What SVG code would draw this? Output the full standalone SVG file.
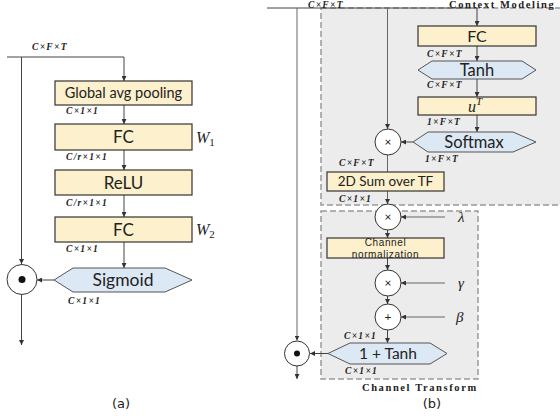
<svg xmlns="http://www.w3.org/2000/svg" width="560" height="419" viewBox="0 0 560 419">
<defs>
<marker id="ah" markerWidth="5" markerHeight="5" refX="5" refY="2.5" orient="auto" markerUnits="userSpaceOnUse">
<path d="M0,0 L5,2.5 L0,5 z" fill="#333"/>
</marker>
</defs>
<style>
.box{fill:#fdf0cc;stroke:#333;stroke-width:1.2}
.hex{fill:#dde8f5;stroke:#555;stroke-width:1}
.op{fill:#fff;stroke:#333;stroke-width:1}
.ln{stroke:#444;stroke-width:1;fill:none}
.lnb{stroke:#666;stroke-width:1;fill:none}
.arr{marker-end:url(#ah)}
.grp{fill:#ececec;stroke:#999;stroke-width:1.5;stroke-dasharray:6,3}
.lbl{font-family:Lato,"Liberation Sans",sans-serif;fill:#222;text-anchor:middle}
.dim{font-family:"Liberation Serif",serif;font-weight:bold;font-style:italic;font-size:9.5px;letter-spacing:1.3px;fill:#222}
.math{font-family:"Liberation Serif",serif;font-style:italic;fill:#222}
.ttl{font-family:"Liberation Serif",serif;font-weight:bold;font-size:10.5px;letter-spacing:1.6px;fill:#222}
.cap{font-family:"DejaVu Sans",sans-serif;font-size:13px;fill:#222;text-anchor:middle}
</style>
<rect width="560" height="419" fill="#fff"/>

<!-- (b) group backgrounds -->
<rect id="context-modeling" class="grp" x="321" y="8" width="245" height="197"/>
<rect id="channel-transform" class="grp" x="321" y="211" width="157" height="168"/>

<g id="connectors">
<!-- (a) -->
<path class="ln" d="M7,57 H124"/>
<path class="ln arr" d="M21.5,57 V264"/>
<path class="ln arr" d="M124,57 V81"/>
<path class="ln arr" d="M124,105 V124"/>
<path class="ln arr" d="M124,150 V170"/>
<path class="ln arr" d="M124,195 V217"/>
<path class="ln arr" d="M124,242 V268"/>
<path class="ln arr" d="M54,280 H37"/>
<path class="ln arr" d="M21.5,295 V345"/>
<!-- (b) -->
<path class="ln" d="M267,8 H477"/>
<path class="lnb arr" d="M297,8 V340.5"/>
<path class="lnb arr" d="M387.5,8 V129"/>
<path class="ln arr" d="M477,8 V26"/>
<path class="ln arr" d="M477,46 V61"/>
<path class="ln arr" d="M477,79 V97"/>
<path class="ln arr" d="M477,115 V132"/>
<path class="ln arr" d="M413,142 H401"/>
<path class="lnb" d="M387.5,155 V172"/>
<path class="lnb arr" d="M387.5,191 V204"/>
<path class="lnb arr" d="M445,217 H401"/>
<path class="ln arr" d="M387.5,230 V238"/>
<path class="ln arr" d="M387.5,258 V270"/>
<path class="lnb arr" d="M445,283 H401"/>
<path class="ln arr" d="M387.5,296 V304"/>
<path class="lnb arr" d="M445,317 H401"/>
<path class="ln arr" d="M387.5,330 V343"/>
<path class="ln arr" d="M328,353.5 H310"/>
<path class="ln arr" d="M297,366 V379"/>
</g>

<!-- (a) nodes -->
<text class="dim" x="32" y="50">C×F×T</text>
<g id="a-gap"><rect class="box" x="55" y="81" width="137" height="24"/><text class="lbl" x="123.5" y="98" font-size="14.5">Global avg pooling</text></g>
<text class="dim" x="66" y="114">C×1×1</text>
<g id="a-fc1"><rect class="box" x="55" y="124" width="137" height="26"/><text class="lbl" x="123.5" y="143" font-size="17">FC</text></g>
<text class="math" x="196" y="143" font-size="16">W<tspan font-size="11" font-style="normal" dy="3">1</tspan></text>
<text class="dim" x="66" y="160">C/r×1×1</text>
<g id="a-relu"><rect class="box" x="55" y="170" width="137" height="25"/><text class="lbl" x="123.5" y="188.5" font-size="17">ReLU</text></g>
<text class="dim" x="66" y="206">C/r×1×1</text>
<g id="a-fc2"><rect class="box" x="55" y="217" width="137" height="25"/><text class="lbl" x="123.5" y="235.5" font-size="17">FC</text></g>
<text class="math" x="196" y="235" font-size="16">W<tspan font-size="11" font-style="normal" dy="3">2</tspan></text>
<text class="dim" x="66" y="252">C×1×1</text>
<g id="a-sigmoid"><polygon class="hex" points="54,280 73,268 165,268 192,280 165,292 73,292"/><text class="lbl" x="123" y="286" font-size="17.5">Sigmoid</text></g>
<g id="a-mul"><circle class="op" cx="22" cy="279.5" r="15"/><circle cx="22" cy="279.5" r="3.5" fill="#111"/></g>
<text class="dim" x="68" y="304">C×1×1</text>
<text class="cap" x="121" y="408">(a)</text>

<!-- (b) nodes -->
<text class="dim" x="308" y="7.5">C×F×T</text>
<text class="ttl" x="449" y="7.5">Context Modeling</text>
<g id="b-fc"><rect class="box" x="418" y="26" width="118" height="20"/><text class="lbl" x="477" y="41.5" font-size="16">FC</text></g>
<text class="dim" x="427" y="57">C×F×T</text>
<g id="b-tanh"><polygon class="hex" points="418,70 432,61 522,61 536,70 522,79 432,79"/><text class="lbl" x="477" y="75.5" font-size="16.5">Tanh</text></g>
<text class="dim" x="427" y="88">C×F×T</text>
<g id="b-ut"><rect class="box" x="418" y="97" width="118" height="18"/><text class="math" x="468" y="111.5" font-size="16">u<tspan font-size="11" dy="-7">T</tspan></text></g>
<text class="dim" x="427" y="125">1×F×T</text>
<g id="b-softmax"><polygon class="hex" points="413,142 428,132 513,132 536,142 513,152 428,152"/><text class="lbl" x="474" y="147.5" font-size="16.5">Softmax</text></g>
<g id="b-mul1"><circle class="op" cx="388" cy="142" r="13"/><text class="lbl" x="388" y="146" font-size="12">×</text></g>
<text class="dim" x="425" y="162">1×F×T</text>
<text class="dim" x="339" y="166">C×F×T</text>
<g id="b-sum"><rect class="box" x="327" y="172" width="117" height="19"/><text class="lbl" x="385.5" y="186" font-size="13.5">2D Sum over TF</text></g>
<text class="dim" x="339" y="202">C×1×1</text>
<g id="b-mul-lambda"><circle class="op" cx="388" cy="217" r="13"/><text class="lbl" x="388" y="221" font-size="12">×</text></g>
<text class="math" x="458" y="222" font-size="15">λ</text>
<g id="b-norm"><rect class="box" x="327" y="238" width="117" height="20"/><text font-family="'Liberation Sans',Arial,sans-serif" font-size="10" fill="#222" text-anchor="middle" letter-spacing="0.6"><tspan x="385.5" y="246.3">Channel</tspan><tspan x="385.5" y="257.5">normalization</tspan></text></g>
<g id="b-mul-gamma"><circle class="op" cx="388" cy="283" r="13"/><text class="lbl" x="388" y="287" font-size="12">×</text></g>
<text class="math" x="458" y="288" font-size="15">γ</text>
<g id="b-add"><circle class="op" cx="388" cy="317" r="13"/><text class="lbl" x="388" y="321" font-size="12">+</text></g>
<text class="math" x="456" y="322" font-size="15">β</text>
<text class="dim" x="344" y="339">C×1×1</text>
<g id="b-tanh2"><polygon class="hex" points="328,353.5 350,343 430,343 447,353.5 430,364 350,364"/><text class="lbl" x="388" y="359" font-size="15.5">1 + Tanh</text></g>
<g id="b-mul-out"><circle class="op" cx="297" cy="353.5" r="12.5"/><circle cx="297" cy="353.5" r="3" fill="#111"/></g>
<text class="dim" x="345" y="374">C×1×1</text>
<text class="ttl" x="362" y="391" font-size="11" letter-spacing="1.2">Channel Transform</text>
<text class="cap" x="432" y="408">(b)</text>
</svg>
